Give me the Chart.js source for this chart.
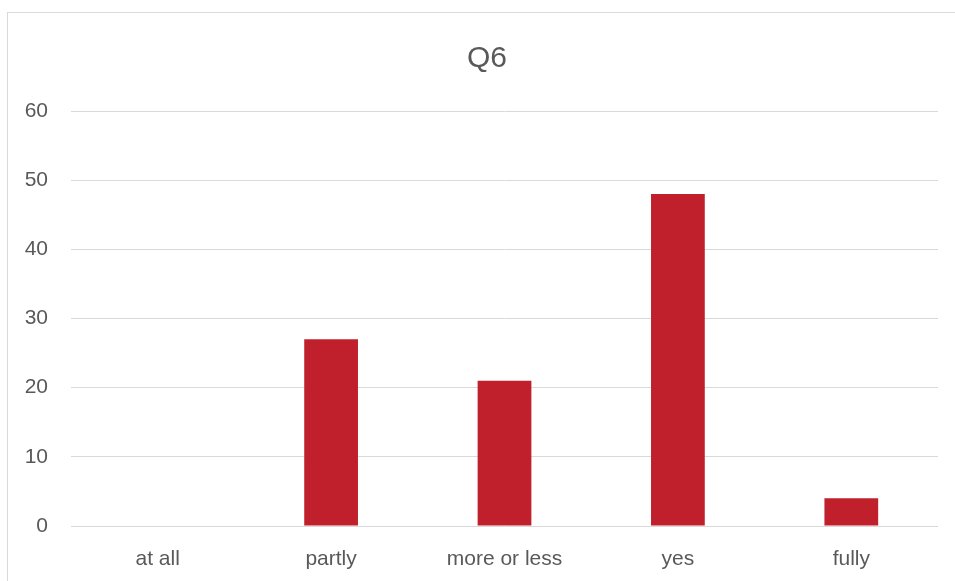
<!DOCTYPE html>
<html>
<head>
<meta charset="utf-8">
<script src="https://cdn.jsdelivr.net/npm/chart.js@4/dist/chart.umd.min.js"></script>
<style>
  html, body { margin: 0; padding: 0; background: #ffffff; overflow: hidden; }
  #wrap { position: relative; width: 955px; height: 581px; }
  #frame { position: absolute; left: 7px; top: 12px; width: 2000px; height: 2000px; border: 1px solid #d9d9d9; }
  canvas { position: absolute; left: 0; top: 0; }
</style>
</head>
<body>
<div id="wrap">
  <div id="frame"></div>
  <canvas id="c" width="955" height="581"></canvas>
</div>
<script>
const chartTitle = "Q6";
const categories = ["at all", "partly", "more or less", "yes", "fully"];
const values = [0, 27, 21, 48, 4];
const yTicks = { min: 0, max: 60, step: 10 };

const textColor = "#595959";
const gridColor = "#d9d9d9";
const barColor = "#C0202C";
const fontFamily = "'Liberation Sans', Arial, sans-serif";

// Title drawn centred on the chart frame (Excel-style), layout space reserved by the built-in title
const frameTitle = {
  id: "frameTitle",
  afterDraw(chart) {
    const ctx = chart.ctx;
    ctx.save();
    ctx.fillStyle = textColor;
    ctx.font = "normal 30px " + fontFamily;
    ctx.textAlign = "center";
    ctx.textBaseline = "alphabetic";
    ctx.fillText(chartTitle, 487, 67);
    ctx.restore();
  }
};

new Chart(document.getElementById("c"), {
  type: "bar",
  data: {
    labels: categories,
    datasets: [{
      label: chartTitle,
      data: values,
      backgroundColor: barColor,
      borderWidth: 0,
      categoryPercentage: 1.0,
      barPercentage: 0.31
    }]
  },
  options: {
    responsive: false,
    animation: false,
    devicePixelRatio: 1,
    layout: { padding: { left: 0, right: 17, top: 0, bottom: 0 } },
    plugins: {
      legend: { display: false },
      tooltip: { enabled: false },
      title: {
        display: true,
        text: chartTitle,
        color: "rgba(0,0,0,0)",
        font: { family: fontFamily, size: 30, weight: "normal", lineHeight: 1.2 },
        padding: { top: 40, bottom: 35 }
      }
    },
    scales: {
      x: {
        grid: { display: false, drawTicks: false },
        border: { display: false },
        ticks: {
          color: textColor,
          font: { family: fontFamily, size: 21 },
          padding: 21,
          maxRotation: 0,
          autoSkip: false
        },
        afterFit: (s) => { s.height = 55; }
      },
      y: {
        min: yTicks.min,
        max: yTicks.max,
        grid: { color: gridColor, lineWidth: 1, drawTicks: false },
        border: { display: false },
        ticks: {
          stepSize: yTicks.step,
          color: textColor,
          font: { family: fontFamily, size: 21 },
          padding: 23
        },
        afterFit: (s) => { s.width = 71; }
      }
    }
  },
  plugins: [frameTitle]
});
</script>
</body>
</html>
